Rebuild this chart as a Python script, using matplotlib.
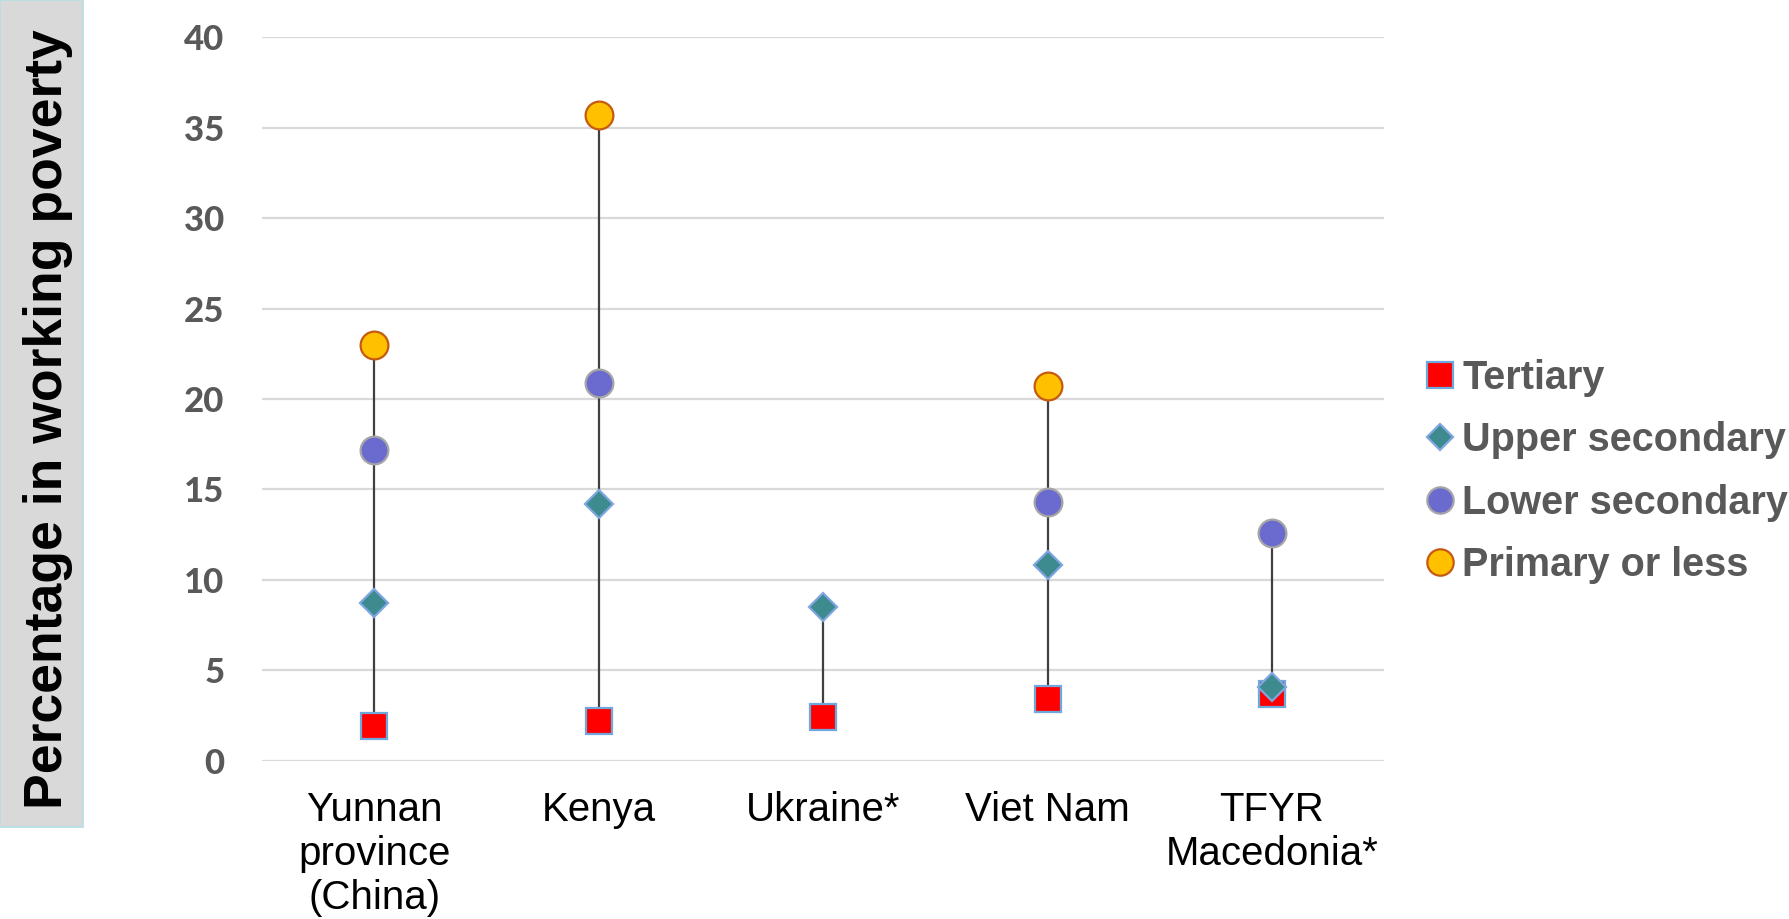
import numpy as np
import matplotlib.pyplot as plt
from matplotlib.patches import Rectangle

countries = ["Yunnan\nprovince\n(China)", "Kenya", "Ukraine*", "Viet Nam", "TFYR\nMacedonia*"]
tertiary = [1.9, 2.2, 2.4, 3.4, 3.7]
upper_secondary = [8.7, 14.2, 8.5, 10.8, 4.1]
lower_secondary = [17.2, 20.9, np.nan, 14.3, 12.6]
primary_or_less = [23.0, 35.7, np.nan, 20.7, np.nan]

series = [
    ("Tertiary", tertiary, "s", "#ff0000", "#6fa8dc"),
    ("Upper secondary", upper_secondary, "D", "#3d8a8f", "#7ea6e0"),
    ("Lower secondary", lower_secondary, "o", "#6b6bcf", "#a6a6a6"),
    ("Primary or less", primary_or_less, "o", "#ffc000", "#c55a11"),
]
sizes = {"s": 19, "D": 14, "o": 20}

fig = plt.figure(figsize=(17.89, 9.19), dpi=100)
ax = fig.add_axes([0.1465, 0.1722, 0.6272, 0.7872])

x = np.arange(len(countries))
allvals = np.array([tertiary, upper_secondary, lower_secondary, primary_or_less])
ax.vlines(x, np.nanmin(allvals, axis=0), np.nanmax(allvals, axis=0),
          color="#404040", lw=1.6, zorder=2)

for name, vals, mk, fc, ec in series:
    ax.plot(x, vals, ls="none", marker=mk, ms=sizes[mk], mfc=fc, mec=ec,
            mew=1.6, label=name, zorder=3, clip_on=False)

ax.set_xlim(-0.5, len(countries) - 0.5)
ax.set_ylim(0, 40)
ax.set_yticks(range(0, 41, 5))
ax.grid(axis="y", color="#d9d9d9", lw=1.6, zorder=0)
for s in ax.spines.values():
    s.set_visible(False)
ax.tick_params(length=0)
ax.tick_params(axis="y", pad=27)
ax.tick_params(axis="x", pad=22)
ax.set_xticks(x)
ax.set_xticklabels(countries, fontsize=29, family="Liberation Sans",
                   color="black", linespacing=1.2, va="top")
for t in ax.get_yticklabels():
    t.set_fontsize(25)
    t.set_fontweight("black")
    t.set_family("Lato")
    t.set_color("#595959")

leg = ax.legend(loc="center left", bbox_to_anchor=(1.006, 0.40), frameon=False,
                prop={"family": "Liberation Sans", "weight": "bold", "size": 28.5},
                handlelength=0.7, handletextpad=0.2, labelspacing=0.62,
                markerscale=0.95)
for t in leg.get_texts():
    t.set_color("#595959")

# grey box behind the vertical axis title
fig.patches.append(Rectangle((0, 1 - 827 / 919), 83 / 1789, 827 / 919,
                             transform=fig.transFigure, facecolor="#d9d9d9",
                             edgecolor="#b4dfe3", lw=1.2))
fig.text(48 / 1789, 1 - 419 / 919, "Percentage in working poverty",
         rotation=90, ha="center", va="center", fontsize=38.5,
         fontweight="bold", family="Liberation Sans", color="black")

fig.savefig("out.png", dpi=100)
